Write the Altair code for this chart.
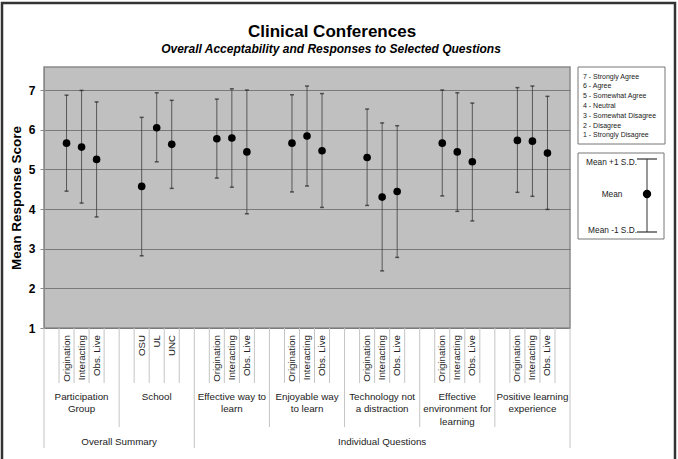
import altair as alt
import pandas as pd

FONT = "Liberation Sans"

# ---------------- data ----------------
groups = ["Participation\nGroup", "School", "Effective way to\nlearn", "Enjoyable way\nto learn",
          "Technology not\na distraction", "Effective\nenvironment for\nlearning",
          "Positive learning\nexperience"]
group_items = [
    ["Origination", "Interacting", "Obs. Live"],
    ["OSU", "UL", "UNC"],
    ["Origination", "Interacting", "Obs. Live"],
    ["Origination", "Interacting", "Obs. Live"],
    ["Origination", "Interacting", "Obs. Live"],
    ["Origination", "Interacting", "Obs. Live"],
    ["Origination", "Interacting", "Obs. Live"],
]
sections = ["Overall Summary", "Individual Questions"]
section_group_counts = [2, 5]

means = [
    [5.66, 5.56, 5.25],
    [4.57, 6.05, 5.63],
    [5.77, 5.79, 5.44],
    [5.66, 5.84, 5.47],
    [5.30, 4.30, 4.44],
    [5.66, 5.44, 5.19],
    [5.73, 5.71, 5.41],
]
plus_sd = [
    [6.87, 6.99, 6.70],
    [6.31, 6.93, 6.74],
    [6.77, 7.03, 7.00],
    [6.88, 7.10, 6.91],
    [6.52, 6.17, 6.10],
    [7.00, 6.93, 6.67],
    [7.06, 7.10, 6.84],
]
minus_sd = [
    [4.45, 4.15, 3.80],
    [2.82, 5.19, 4.52],
    [4.78, 4.55, 3.88],
    [4.43, 4.58, 4.04],
    [4.09, 2.44, 2.78],
    [4.33, 3.94, 3.70],
    [4.42, 4.32, 3.99],
]
scale_labels = ["7 - Strongly Agree", "6 - Agree", "5 - Somewhat Agree", "4 - Neutral",
                "3 - Somewhat Disagree", "2 - Disagree", "1 - Strongly Disagree"]
y_ticks = [1, 2, 3, 4, 5, 6, 7]

# ---------------- tables built from the lists ----------------
SLOTS_PER_GROUP = 5
rows = []
for g, items in enumerate(group_items):
    for j, it in enumerate(items):
        rows.append({"slot": g * SLOTS_PER_GROUP + 1.5 + j, "item": it,
                     "mean": means[g][j], "hi": plus_sd[g][j], "lo": minus_sd[g][j]})
df = pd.DataFrame(rows)

n_slots = len(groups) * SLOTS_PER_GROUP
grp_df = pd.DataFrame({"x": [g * SLOTS_PER_GROUP + SLOTS_PER_GROUP / 2 for g in range(len(groups))],
                       "label": groups})
sec_x, sec_b, start = [], [0], 0
for c in section_group_counts:
    sec_x.append((start + c / 2) * SLOTS_PER_GROUP)
    start += c
    sec_b.append(start * SLOTS_PER_GROUP)
sec_df = pd.DataFrame({"x": sec_x, "label": sections})
grp_b = [g * SLOTS_PER_GROUP for g in range(len(groups) + 1) if g * SLOTS_PER_GROUP not in sec_b]
short_b = [k for k in range(1, n_slots) if k % SLOTS_PER_GROUP != 0]

W, H = 526, 261
xs = alt.Scale(domain=[0, n_slots], nice=False, zero=False)
ys = alt.Scale(domain=[1, 7.58], nice=False, zero=False)
X = alt.X("slot:Q", scale=xs, axis=None)

yaxis = alt.Axis(values=y_ticks, format="d", grid=True, gridColor="#7a7a7a", gridWidth=1,
                 labelFont=FONT, labelFontSize=12, labelFontWeight="bold", labelColor="black",
                 tickColor="#888", tickSize=4, labelPadding=5, domainColor="#888",
                 title="Mean Response Score", titleFont=FONT, titleFontSize=13.5,
                 titleFontWeight="bold", titleColor="black", titlePadding=5)

bars = alt.Chart(df).mark_rule(color="#3c3c3c", strokeWidth=0.8).encode(
    x=X, y=alt.Y("lo:Q", scale=ys, axis=yaxis), y2="hi:Q")
cap_hi = alt.Chart(df).mark_tick(orient="horizontal", size=4, thickness=1.5, color="#222").encode(
    x=X, y=alt.Y("hi:Q", scale=ys))
cap_lo = alt.Chart(df).mark_tick(orient="horizontal", size=4, thickness=1.5, color="#222").encode(
    x=X, y=alt.Y("lo:Q", scale=ys))
pts = alt.Chart(df).mark_circle(size=58, color="black", opacity=1).encode(
    x=X, y=alt.Y("mean:Q", scale=ys))

SEP = "#c4c4c4"
def seps(vals, length):
    return alt.Chart(pd.DataFrame({"b": vals})).mark_rule(color=SEP, strokeWidth=1).encode(
        x=alt.X("b:Q", scale=xs, axis=None), y=alt.value(H), y2=alt.value(H + length))

sep_short = seps(short_b, 55)
sep_grp = seps(grp_b, 99)
sep_sec = seps(sec_b, 120)

item_txt = alt.Chart(df).mark_text(angle=270, align="right", baseline="middle", font=FONT,
                                   fontSize=9.7, color="#222").encode(
    x=X, y=alt.value(268), text="item:N")
grp_txt = alt.Chart(grp_df).mark_text(lineBreak="\n", lineHeight=12.6, align="center",
                                      baseline="alphabetic", font=FONT, fontSize=9.8,
                                      color="#222").encode(
    x=alt.X("x:Q", scale=xs, axis=None), y=alt.value(332.5), text="label:N")
sec_txt = alt.Chart(sec_df).mark_text(align="center", baseline="alphabetic", font=FONT,
                                      fontSize=9.8, color="#222").encode(
    x=alt.X("x:Q", scale=xs, axis=None), y=alt.value(377.5), text="label:N")

one = pd.DataFrame({"a": [0]})
title = alt.Chart(one).mark_text(font=FONT, fontSize=17, fontWeight="bold", color="black",
                                 align="center", baseline="alphabetic").encode(
    x=alt.value(288), y=alt.value(-30.5), text=alt.value("Clinical Conferences"))
subtitle = alt.Chart(one).mark_text(font=FONT, fontSize=12, fontWeight="bold", fontStyle="italic",
                                    color="black", align="center", baseline="alphabetic").encode(
    x=alt.value(287), y=alt.value(-14), text=alt.value("Overall Acceptability and Responses to Selected Questions"))

box1 = alt.Chart(one).mark_rect(fill="white", stroke="#777", strokeWidth=1).encode(
    x=alt.value(534), x2=alt.value(621), y=alt.value(0), y2=alt.value(77))
leg_df = pd.DataFrame({"t": scale_labels, "i": list(range(len(scale_labels)))})
leg_txt = alt.Chart(leg_df).transform_calculate(py="11.5 + datum.i * 9.8").mark_text(
    font=FONT, fontSize=7, color="#222", align="left", baseline="alphabetic").encode(
    x=alt.value(539), y=alt.Y("py:Q", scale=None), text="t:N")

box2 = alt.Chart(one).mark_rect(fill="white", stroke="#777", strokeWidth=1).encode(
    x=alt.value(534), x2=alt.value(620), y=alt.value(86), y2=alt.value(172))
key_line = alt.Chart(one).mark_rule(color="#333", strokeWidth=1).encode(
    x=alt.value(603), y=alt.value(92), y2=alt.value(165))
key_cap1 = alt.Chart(one).mark_rule(color="#333", strokeWidth=1.2).encode(
    x=alt.value(593), x2=alt.value(613), y=alt.value(92))
key_cap2 = alt.Chart(one).mark_rule(color="#333", strokeWidth=1.2).encode(
    x=alt.value(593), x2=alt.value(613), y=alt.value(165))
key_pt = alt.Chart(one).mark_circle(size=70, color="black", opacity=1).encode(
    x=alt.value(603), y=alt.value(127))
key_t1 = alt.Chart(one).mark_text(font=FONT, fontSize=8.3, color="#222", align="right",
                                  baseline="alphabetic").encode(
    x=alt.value(593), y=alt.value(98), text=alt.value("Mean +1 S.D."))
key_t2 = alt.Chart(one).mark_text(font=FONT, fontSize=8.3, color="#222", align="center",
                                  baseline="alphabetic").encode(
    x=alt.value(568), y=alt.value(130), text=alt.value("Mean"))
key_t3 = alt.Chart(one).mark_text(font=FONT, fontSize=8.3, color="#222", align="right",
                                  baseline="alphabetic").encode(
    x=alt.value(593), y=alt.value(166), text=alt.value("Mean -1 S.D."))

frame = alt.Chart(one).mark_rect(fillOpacity=0, stroke="#333", strokeWidth=2.5).encode(
    x=alt.value(-42), x2=alt.value(631), y=alt.value(-64), y2=alt.value(410))

chart = alt.layer(
    bars, cap_hi, cap_lo, pts,
    sep_short, sep_grp, sep_sec, item_txt, grp_txt, sec_txt,
    title, subtitle, box1, leg_txt, box2, key_line, key_cap1, key_cap2, key_pt,
    key_t1, key_t2, key_t3, frame,
).properties(
    width=W, height=H,
    autosize=alt.AutoSizeParams(type="none"),
    padding={"left": 44, "top": 67, "right": 108, "bottom": 131},
    background="white",
).configure_view(fill="#c0c0c0", stroke="#8a8a8a", strokeWidth=1.5)

chart.save("out.html", embed_options={"renderer": "svg", "actions": False})
